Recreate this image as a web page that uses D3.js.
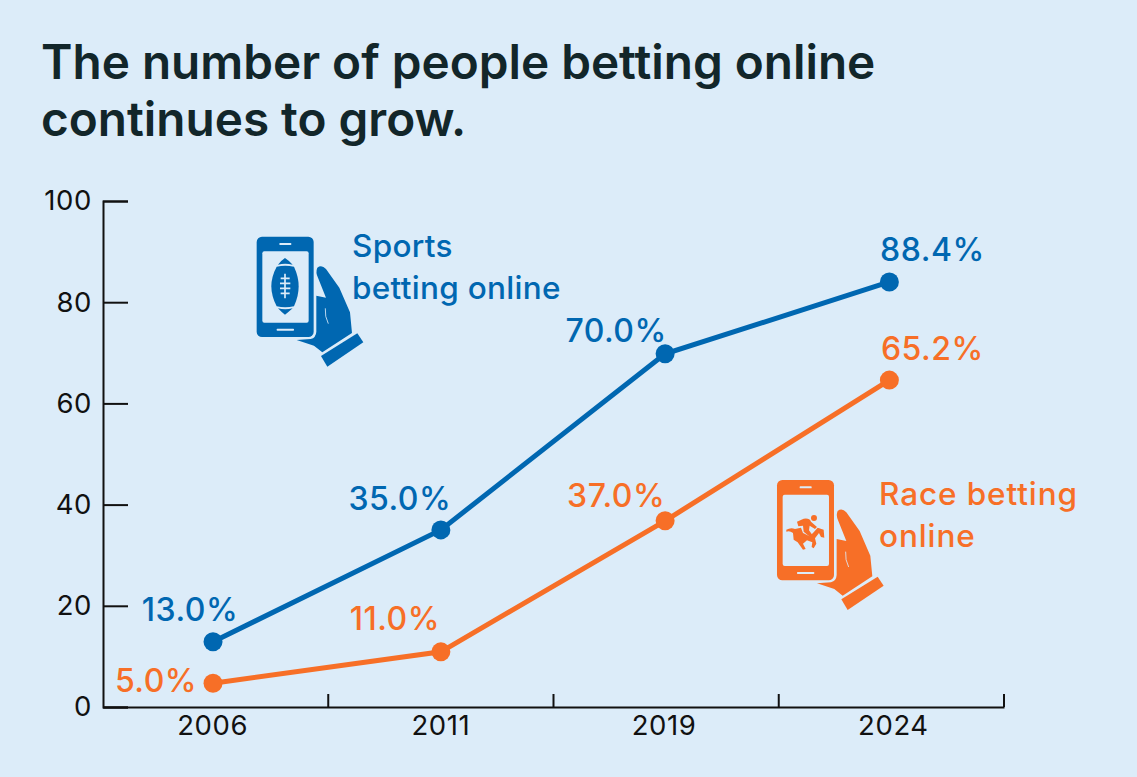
<!DOCTYPE html>
<html>
<head>
<meta charset="utf-8">
<script src="https://cdn.jsdelivr.net/npm/d3@7"></script>
<style>
    html, body { margin: 0; padding: 0; background: #dcecf9; }
    svg { display: block; }
    text { font-family: Inter, "Noto Sans", sans-serif; }
</style>
</head>
<body>
<div id="chart"></div>
<script>
'use strict';

var titleLines = ['The number of people betting online', 'continues to grow.'];
var years = ['2006', '2011', '2019', '2024'];
var yTicks = [0, 20, 40, 60, 80, 100];

// plotted heights, as drawn in the picture (last points sit lower than their labels say)
var sportsValues = [12.9, 35, 69.8, 84];
var raceValues = [4.7, 10.9, 36.8, 64.6];
var sportsLabels = ['13.0%', '35.0%', '70.0%', '88.4%'];
var raceLabels = ['5.0%', '11.0%', '37.0%', '65.2%'];
var sportsName = ['Sports', 'betting online'];
var raceName = ['Race betting', 'online'];

var blue = '#0067b1';
var orange = '#f76f27';
var ink = '#111';

var width = 1137;
var height = 777;

var svg = d3.select('#chart').append('svg')
    .attr('width', width)
    .attr('height', height);

var x = d3.scaleBand().domain(years).range([103, 1004]);
var y = d3.scaleLinear().domain([0, 100]).range([707, 201]);

// the points and year labels are not quite on the band centres in the original
var nudge = [-2.6, 0, -1, -2];
var labelNudge = [-3, 0, -2, 2];

function xMid(i) {
    return x(years[i]) + x.bandwidth() / 2 + nudge[i];
}

svg.append('g').selectAll('text')
    .data(titleLines)
    .join('text')
    .attr('x', 41)
    .attr('y', function(d, i) { return 79 + i * 57; })
    .attr('fill', '#12262a')
    .attr('font-size', 47.7)
    .attr('font-weight', 600)
    .text(function(d) { return d; });

// axes
var yAxis = svg.append('g')
    .attr('transform', 'translate(103,0)')
    .call(d3.axisLeft(y).tickValues(yTicks).tickSize(-25).tickPadding(11));

var xAxis = svg.append('g')
    .attr('transform', 'translate(0,707)')
    .call(d3.axisBottom(x).tickSize(0).tickPadding(8));

[yAxis, xAxis].forEach(function(axis) {
    axis.selectAll('path').attr('stroke', ink).attr('stroke-width', 2);
    axis.selectAll('line').attr('stroke', ink).attr('stroke-width', 2);
    axis.selectAll('text')
        .attr('fill', ink)
        .attr('font-size', 27.5)
        .attr('letter-spacing', 0.6)
        .style('font-family', 'Inter');
});

xAxis.selectAll('.tick text')
    .attr('dx', function(d, i) { return labelNudge[i]; });

// x ticks sit on the band edges, not the centres
xAxis.selectAll('line.edge')
    .data(years)
    .join('line')
    .attr('class', 'edge')
    .attr('x1', function(d) { return x(d) + x.bandwidth(); })
    .attr('x2', function(d) { return x(d) + x.bandwidth(); })
    .attr('y1', 0)
    .attr('y2', -13)
    .attr('stroke', ink)
    .attr('stroke-width', 2);

var line = d3.line()
    .x(function(d, i) { return xMid(i); })
    .y(function(d) { return y(d); });

function drawSeries(values, labels, color, offsets) {
    var g = svg.append('g');

    g.append('path')
        .datum(values)
        .attr('d', line)
        .attr('fill', 'none')
        .attr('stroke', color)
        .attr('stroke-width', 5);

    g.selectAll('circle')
        .data(values)
        .join('circle')
        .attr('cx', function(d, i) { return xMid(i); })
        .attr('cy', function(d) { return y(d); })
        .attr('r', 9.5)
        .attr('fill', color);

    g.selectAll('text')
        .data(labels)
        .join('text')
        .attr('x', function(d, i) { return xMid(i) + offsets[i][0]; })
        .attr('y', function(d, i) { return y(values[i]) + offsets[i][1]; })
        .attr('text-anchor', 'middle')
        .attr('fill', color)
        .attr('font-size', 32)
        .attr('font-weight', 500)
        .attr('letter-spacing', 0.5)
        .text(function(d) { return d; });
}

drawSeries(sportsValues, sportsLabels, blue, [[-23, -21], [-41, -20], [-49, -12], [43, -21]]);
drawSeries(raceValues, raceLabels, orange, [[-57, 9], [-46, -22], [-49, -14], [43, -20]]);

function drawName(lines, px, py, color, spacing) {
    svg.append('g').selectAll('text')
        .data(lines)
        .join('text')
        .attr('x', px)
        .attr('y', function(d, i) { return py + i * 42; })
        .attr('fill', color)
        .attr('font-size', 31.5)
        .attr('font-weight', 500)
        .attr('letter-spacing', spacing)
        .text(function(d) { return d; });
}

drawName(sportsName, 352, 257, blue, 0.3);
drawName(raceName, 879, 505, orange, 0.9);

// phone in a hand, drawn at 3x and scaled down
function drawPhone(px, py, color) {
    var bg = '#dcecf9';
    var g = svg.append('g')
        .attr('transform', 'translate(' + px + ',' + py + ') scale(0.3333)');

    g.append('path')
        .attr('fill', color)
        .attr('d', 'M232,128 Q245,118 258,132 L298,188 L330,262 L336,324 L247,382 L222,362 L170,345 L212,342 Q228,338 229,320 L229,212 L258,218 L234,158 Q226,142 232,128 Z');
    g.append('path')
        .attr('fill', color)
        .attr('d', 'M243,393 L352,325 L370,352 L262,425 Z');
    g.append('path')
        .attr('fill', 'none')
        .attr('stroke', bg)
        .attr('stroke-width', 2.5)
        .attr('d', 'M256,250 Q254,275 265,296');
    g.append('rect')
        .attr('x', 50).attr('y', 35).attr('width', 171).attr('height', 301).attr('rx', 16)
        .attr('fill', color);
    g.append('rect')
        .attr('x', 67).attr('y', 79).attr('width', 139).attr('height', 214).attr('rx', 6)
        .attr('fill', bg);
    g.append('rect')
        .attr('x', 118).attr('y', 54).attr('width', 36).attr('height', 6).attr('rx', 2)
        .attr('fill', bg);
    g.append('rect')
        .attr('x', 110).attr('y', 311).attr('width', 52).attr('height', 6).attr('rx', 2)
        .attr('fill', bg);
    return g;
}

function drawFootball(g, color) {
    var bg = '#dcecf9';
    g.append('path')
        .attr('fill', color)
        .attr('d', 'M114,119 Q124,106 135,99 Q146,106 158,119 Q135,113 114,119 Z');
    g.append('path')
        .attr('fill', color)
        .attr('d', 'M114,250 Q124,261 135,269 Q146,261 158,250 Q135,256 114,250 Z');
    g.append('path')
        .attr('fill', color)
        .attr('d', 'M110,125 Q135,119 162,125 Q176,155 176,184 Q176,214 162,244 Q135,250 110,244 Q94,214 94,184 Q94,155 110,125 Z');
    g.append('path')
        .attr('fill', 'none')
        .attr('stroke', bg)
        .attr('stroke-width', 5)
        .attr('d', 'M135,146 V220 M122,160 H149 M120,175 H151 M120,190 H151 M122,205 H149');
}

function drawHorse(g, color) {
    // rider
    g.append('circle').attr('cx', 161).attr('cy', 149).attr('r', 9).attr('fill', color);
    g.append('path')
        .attr('fill', color)
        .attr('d', 'M110,160 L130,151 Q148,148 152,160 L170,176 L164,182 L148,172 L146,186 L158,202 L150,207 L130,190 L128,172 L114,174 Z');
    // horse
    g.append('path')
        .attr('fill', color)
        .attr('d', 'M78,184 Q92,176 104,182 L122,178 L128,194 L148,204 L160,192 L172,178 L190,184 L192,208 L182,206 L176,194 L164,210 L168,226 L160,240 L154,236 L156,222 L140,216 L128,226 L136,242 L128,244 L112,222 L100,214 L98,194 Q88,186 78,190 Z');
}

drawFootball(drawPhone(240, 225, blue), blue);
drawHorse(drawPhone(760.33, 468.33, orange), orange);
</script>
</body>
</html>
